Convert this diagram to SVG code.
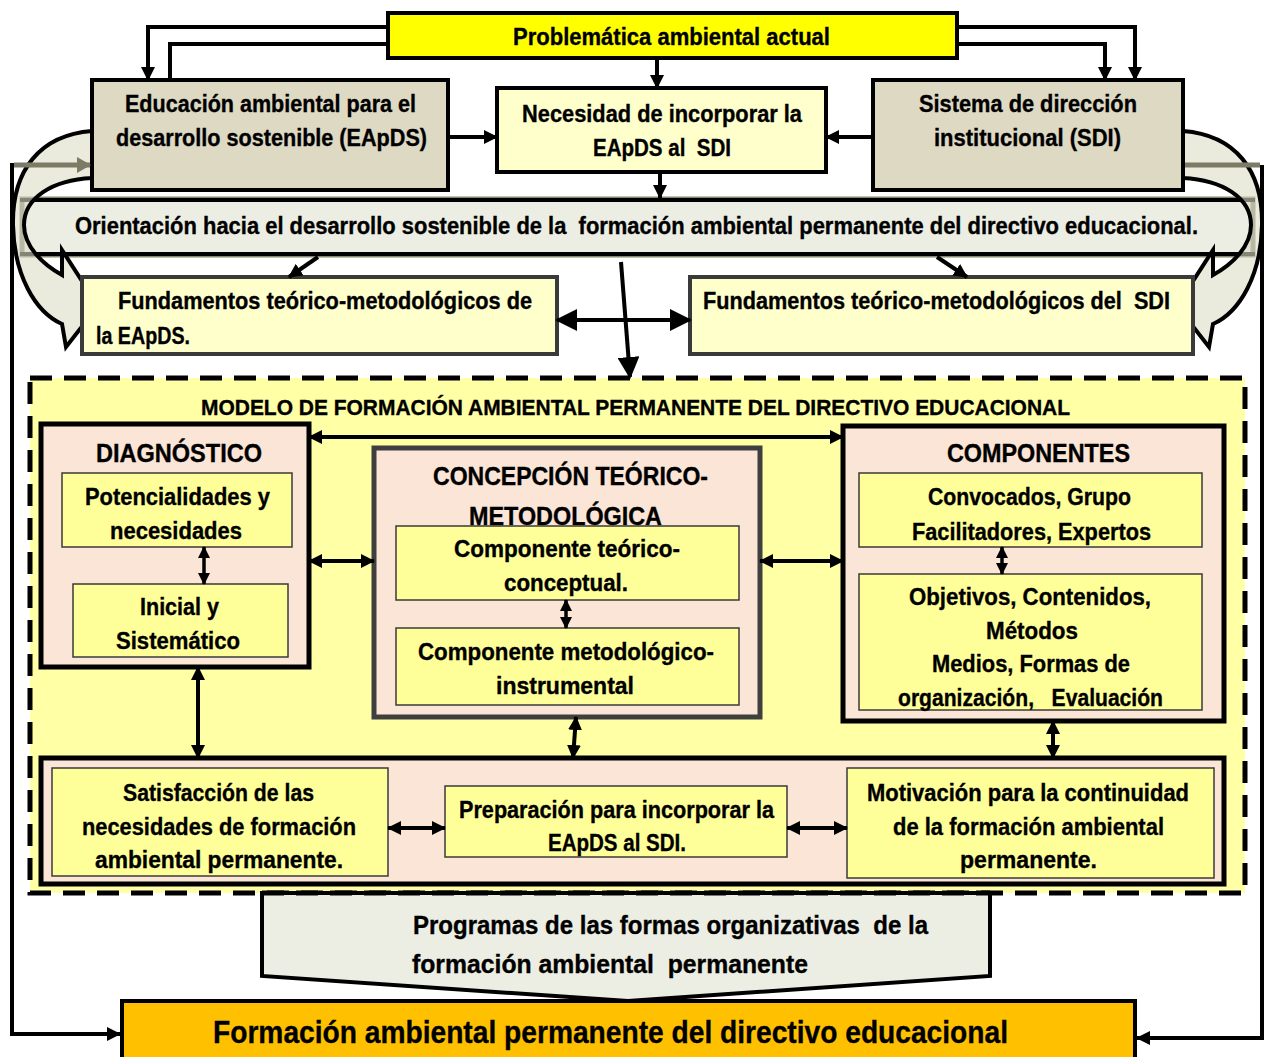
<svg xmlns="http://www.w3.org/2000/svg" width="1269" height="1057" viewBox="0 0 1269 1057">
<defs>
<style>
text{font-family:"Liberation Sans",Arial,sans-serif;font-weight:bold;fill:#000;font-size:23px;stroke:#000;stroke-width:0.35px}
.h{font-size:25px}
.big{font-size:31px}
.ln{fill:none;stroke:#000;stroke-width:4}
.thin{fill:none;stroke:#000;stroke-width:3.5}
.grey{fill:#DDD9C3;stroke:#000;stroke-width:4}
.pale{fill:#FFFFCC;stroke:#000;stroke-width:4}
.fund{fill:#FFFFCC;stroke:#3a3a3a;stroke-width:4}
.pink{fill:#FBE5D6;stroke:#000;stroke-width:5}
.pinkg{fill:#FBE5D6;stroke:#3f3f3f;stroke-width:5}
.inner{fill:#FFFF99;stroke:#3a3a3a;stroke-width:1.5}
</style>
<marker id="ah" viewBox="0 0 14 14" refX="13" refY="7" markerWidth="14" markerHeight="14" markerUnits="userSpaceOnUse" orient="auto-start-reverse"><path d="M0,0 L14,7 L0,14 z" fill="#000"/></marker>
<marker id="as" viewBox="0 0 12 12" refX="11" refY="6" markerWidth="12" markerHeight="12" markerUnits="userSpaceOnUse" orient="auto-start-reverse"><path d="M0,0 L12,6 L0,12 z" fill="#000"/></marker>
<marker id="ab" viewBox="0 0 22 22" refX="20" refY="11" markerWidth="22" markerHeight="22" markerUnits="userSpaceOnUse" orient="auto-start-reverse"><path d="M0,0 L22,11 L0,22 z" fill="#000"/></marker>
<marker id="ag" viewBox="0 0 14 16" refX="13" refY="8" markerWidth="14" markerHeight="16" markerUnits="userSpaceOnUse" orient="auto"><path d="M0,0 L14,8 L0,16 z" fill="#7B7B66"/></marker>
</defs>

<g id="feedback-lines">
<path class="ln" d="M12 163 V1034 H120" marker-end="url(#ah)"/>
<path class="ln" d="M1262 165 V1038 H1137" marker-end="url(#ah)"/>
</g>

<g id="orientacion">
<rect x="22" y="199" width="1231" height="56" fill="#ECEEE3" stroke="#85856E" stroke-width="5"/>
<line x1="20" y1="200" x2="1255" y2="200" stroke="#000" stroke-width="4"/>
<line x1="20" y1="254" x2="1255" y2="254" stroke="#000" stroke-width="4"/>
<text x="75" y="234" textLength="1123" lengthAdjust="spacingAndGlyphs" xml:space="preserve">Orientación hacia el desarrollo sostenible de la  formación ambiental permanente del directivo educacional.</text>
</g>

<g id="curved-left">
<path d="M92 131 C40 135 12 170 13 225 C14 275 35 312 62 324 L66 347 L98 306 L62 250 L62 275 C42 264 24 246 24 225 C24 198 52 180 92 178 Z" fill="#DCDCC6" fill-opacity="0.6" stroke="#000" stroke-width="4" stroke-linejoin="miter"/>
</g>
<g id="curved-right" transform="translate(1275,0) scale(-1,1)">
<path d="M92 131 C40 135 12 170 13 225 C14 275 35 312 62 324 L66 347 L98 306 L62 250 L62 275 C42 264 24 246 24 225 C24 198 52 180 92 178 Z" fill="#DCDCC6" fill-opacity="0.6" stroke="#000" stroke-width="4"/>
</g>

<g id="problematica">
<rect x="388" y="13" width="569" height="45" fill="#FFFF00" stroke="#000" stroke-width="4"/>
<text x="513" y="45" textLength="317" lengthAdjust="spacingAndGlyphs">Problemática ambiental actual</text>
</g>

<g id="eapds">
<rect class="grey" x="92" y="80" width="356" height="110"/>
<text x="125" y="112" textLength="291" lengthAdjust="spacingAndGlyphs">Educación ambiental para el</text>
<text x="116" y="146" textLength="311" lengthAdjust="spacingAndGlyphs">desarrollo sostenible (EApDS)</text>
</g>

<g id="necesidad">
<rect class="pale" x="497" y="88" width="329" height="84"/>
<text x="522" y="122" textLength="280" lengthAdjust="spacingAndGlyphs">Necesidad de incorporar la</text>
<text x="593" y="156" textLength="138" lengthAdjust="spacingAndGlyphs" xml:space="preserve">EApDS al  SDI</text>
</g>

<g id="sdi">
<rect class="grey" x="873" y="80" width="310" height="110"/>
<text x="919" y="112" textLength="218" lengthAdjust="spacingAndGlyphs">Sistema de dirección</text>
<text x="934" y="146" textLength="187" lengthAdjust="spacingAndGlyphs">institucional (SDI)</text>
</g>

<g id="fund-eapds">
<rect class="fund" x="82" y="277" width="475" height="77"/>
<text x="118" y="309" textLength="414" lengthAdjust="spacingAndGlyphs">Fundamentos teórico-metodológicos de</text>
<text x="96" y="344" textLength="94" lengthAdjust="spacingAndGlyphs">la EApDS.</text>
</g>

<g id="fund-sdi">
<rect class="fund" x="690" y="277" width="503" height="77"/>
<text x="703" y="309" textLength="467" lengthAdjust="spacingAndGlyphs" xml:space="preserve">Fundamentos teórico-metodológicos del  SDI</text>
</g>

<g id="grey-arrows">
<path d="M14 165 H90" stroke="#7B7B66" stroke-width="5" fill="none" marker-end="url(#ag)"/>
<path d="M1260 165 H1185" stroke="#7B7B66" stroke-width="5" fill="none"/>
</g>

<g id="modelo">
<rect x="30" y="378" width="1215" height="515" fill="#FFFFA6" stroke="#000" stroke-width="5" stroke-dasharray="22 12"/>
<text x="201" y="415" style="font-size:22px" textLength="869" lengthAdjust="spacingAndGlyphs">MODELO DE FORMACIÓN AMBIENTAL PERMANENTE DEL DIRECTIVO EDUCACIONAL</text>
</g>

<g id="diagnostico">
<rect class="pink" x="41" y="424" width="268" height="243"/>
<text class="h" x="96" y="462" textLength="166" lengthAdjust="spacingAndGlyphs">DIAGNÓSTICO</text>
</g>
<g id="potencialidades">
<rect class="inner" x="62" y="473" width="230" height="74"/>
<text x="85" y="505" textLength="185" lengthAdjust="spacingAndGlyphs">Potencialidades y</text>
<text x="110" y="539" textLength="132" lengthAdjust="spacingAndGlyphs">necesidades</text>
</g>
<g id="inicial">
<rect class="inner" x="73" y="584" width="215" height="73"/>
<text x="140" y="615" textLength="79" lengthAdjust="spacingAndGlyphs">Inicial y</text>
<text x="116" y="649" textLength="124" lengthAdjust="spacingAndGlyphs">Sistemático</text>
</g>

<g id="concepcion">
<rect class="pinkg" x="374" y="448" width="386" height="269"/>
<text class="h" x="433" y="485" textLength="275" lengthAdjust="spacingAndGlyphs">CONCEPCIÓN TEÓRICO-</text>
<text class="h" x="469" y="525" textLength="193" lengthAdjust="spacingAndGlyphs">METODOLÓGICA</text>
</g>
<g id="comp-teorico">
<rect class="inner" x="396" y="526" width="343" height="74"/>
<text x="454" y="557" textLength="226" lengthAdjust="spacingAndGlyphs">Componente teórico-</text>
<text x="504" y="591" textLength="124" lengthAdjust="spacingAndGlyphs">conceptual.</text>
</g>
<g id="comp-metodologico">
<rect class="inner" x="396" y="628" width="343" height="77"/>
<text x="418" y="660" textLength="296" lengthAdjust="spacingAndGlyphs">Componente metodológico-</text>
<text x="496" y="694" textLength="138" lengthAdjust="spacingAndGlyphs">instrumental</text>
</g>

<g id="componentes">
<rect class="pink" x="843" y="426" width="381" height="295"/>
<text class="h" x="947" y="462" textLength="183" lengthAdjust="spacingAndGlyphs">COMPONENTES</text>
</g>
<g id="convocados">
<rect class="inner" x="859" y="473" width="343" height="74"/>
<text x="928" y="505" textLength="203" lengthAdjust="spacingAndGlyphs">Convocados, Grupo</text>
<text x="912" y="540" textLength="239" lengthAdjust="spacingAndGlyphs">Facilitadores, Expertos</text>
</g>
<g id="objetivos">
<rect class="inner" x="859" y="574" width="343" height="136"/>
<text x="909" y="605" textLength="242" lengthAdjust="spacingAndGlyphs">Objetivos, Contenidos,</text>
<text x="986" y="639" textLength="92" lengthAdjust="spacingAndGlyphs">Métodos</text>
<text x="932" y="672" textLength="198" lengthAdjust="spacingAndGlyphs">Medios, Formas de</text>
<text x="898" y="706" textLength="265" lengthAdjust="spacingAndGlyphs" xml:space="preserve">organización,   Evaluación</text>
</g>

<g id="resultados">
<rect class="pink" x="41" y="758" width="1183" height="126"/>
</g>
<g id="satisfaccion">
<rect class="inner" x="52" y="768" width="336" height="108"/>
<text x="123" y="801" textLength="191" lengthAdjust="spacingAndGlyphs">Satisfacción de las</text>
<text x="82" y="835" textLength="274" lengthAdjust="spacingAndGlyphs">necesidades de formación</text>
<text x="95" y="868" textLength="248" lengthAdjust="spacingAndGlyphs">ambiental permanente.</text>
</g>
<g id="preparacion">
<rect class="inner" x="445" y="786" width="342" height="71"/>
<text x="459" y="818" textLength="315" lengthAdjust="spacingAndGlyphs">Preparación para incorporar la</text>
<text x="548" y="851" textLength="138" lengthAdjust="spacingAndGlyphs">EApDS al SDI.</text>
</g>
<g id="motivacion">
<rect class="inner" x="847" y="768" width="367" height="110"/>
<text x="867" y="801" textLength="322" lengthAdjust="spacingAndGlyphs">Motivación para la continuidad</text>
<text x="893" y="835" textLength="271" lengthAdjust="spacingAndGlyphs">de la formación ambiental</text>
<text x="960" y="868" textLength="137" lengthAdjust="spacingAndGlyphs">permanente.</text>
</g>

<g id="programas">
<polygon points="262,893 990,893 990,976 628,1001 262,976" fill="#ECEEE3" stroke="#000" stroke-width="4" stroke-linejoin="miter"/>
<text class="h" x="413" y="934" textLength="515" lengthAdjust="spacingAndGlyphs" xml:space="preserve">Programas de las formas organizativas  de la</text>
<text class="h" x="412" y="973" textLength="396" lengthAdjust="spacingAndGlyphs" xml:space="preserve">formación ambiental  permanente</text>
</g>
<line x1="262" y1="893" x2="990" y2="893" stroke="#000" stroke-width="5" stroke-dasharray="22 12"/>

<g id="formacion">
<rect x="122" y="1001" width="1013" height="62" fill="#FFC000" stroke="#000" stroke-width="4"/>
<text class="big" x="213" y="1043" textLength="795" lengthAdjust="spacingAndGlyphs">Formación ambiental permanente del directivo educacional</text>
</g>

<g id="connectors">
<path class="ln" d="M388 27 H148 V80" marker-end="url(#ah)"/>
<path class="ln" d="M388 44 H170 V80"/>
<path class="ln" d="M957 27 H1135 V80" marker-end="url(#ah)"/>
<path class="ln" d="M957 44 H1105 V80" marker-end="url(#ah)"/>
<path class="ln" d="M657 58 V88" marker-end="url(#ah)"/>
<path class="ln" d="M448 137 H497" marker-end="url(#ah)"/>
<path class="ln" d="M873 137 H826" marker-end="url(#ah)"/>
<path class="ln" d="M660 172 V198" marker-end="url(#ah)"/>
<path class="ln" d="M318 257 L289 277" marker-end="url(#ah)"/>
<path class="ln" d="M937 257 L967 277" marker-end="url(#ah)"/>
<path class="ln" d="M557 320 H690" stroke-width="6" marker-start="url(#ab)" marker-end="url(#ab)"/>
<path class="ln" d="M621 262 L630 377" stroke-width="6" marker-end="url(#ab)"/>
<path class="ln" d="M309 437 H843" marker-start="url(#ah)" marker-end="url(#ah)"/>
<path class="ln" d="M309 561 H374" marker-start="url(#ah)" marker-end="url(#ah)"/>
<path class="ln" d="M760 561 H843" marker-start="url(#ah)" marker-end="url(#ah)"/>
<path class="thin" d="M204 547 V584" marker-start="url(#as)" marker-end="url(#as)"/>
<path class="thin" d="M566 600 V628" marker-start="url(#as)" marker-end="url(#as)"/>
<path class="thin" d="M1002 547 V574" marker-start="url(#as)" marker-end="url(#as)"/>
<path class="ln" d="M198 667 V758" marker-start="url(#ah)" marker-end="url(#ah)"/>
<path class="ln" d="M576 717 L573 758" marker-start="url(#ah)" marker-end="url(#ah)"/>
<path class="ln" d="M1053 721 V758" marker-start="url(#ah)" marker-end="url(#ah)"/>
<path class="ln" d="M388 828 H445" marker-start="url(#ah)" marker-end="url(#ah)"/>
<path class="ln" d="M787 828 H847" marker-start="url(#ah)" marker-end="url(#ah)"/>
</g>
</svg>
